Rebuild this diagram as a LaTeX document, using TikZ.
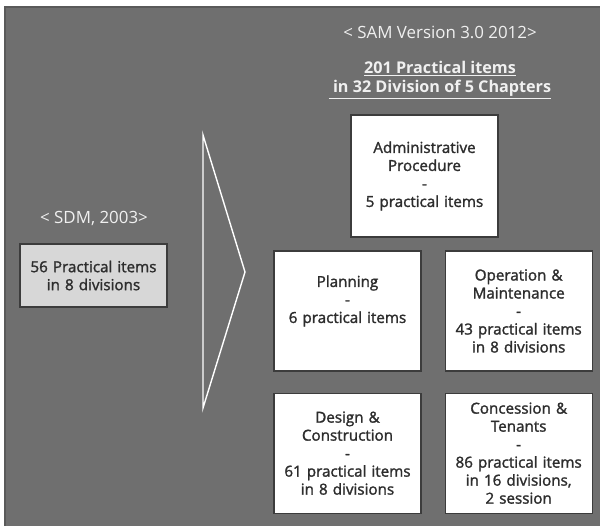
\documentclass[tikz,border=0pt]{standalone}
\usepackage{fontspec}
\setmainfont{Open Sans}
\newfontfamily\cardfont{Open Sans}[FakeBold=1.6]
\usetikzlibrary{positioning,shadows}

\definecolor{bggray}{RGB}{111,111,111}
\definecolor{bgedge}{RGB}{90,90,90}
\definecolor{cardedge}{RGB}{60,60,60}
\definecolor{cardtext}{RGB}{45,45,45}
\definecolor{headtext}{RGB}{240,240,240}
\definecolor{oldfill}{RGB}{215,215,215}

\begin{document}
\begin{tikzpicture}[
        x=0.025cm, y=-0.025cm,
        node distance=0.525cm and 0.575cm,
        panel/.style={fill=bggray, draw=bgedge, line width=0.8pt},
        card/.style={rectangle, draw=cardedge, line width=0.8pt, fill=white, text=cardtext,
            minimum width=3.675cm, minimum height=3cm, text width=3.6cm, inner sep=0pt, align=center,
            font=\cardfont\fontsize{10.8}{12.8}\selectfont,
            drop shadow={opacity=0.35, shadow xshift=0.6pt, shadow yshift=-0.6pt}},
        old card/.style={card, fill=oldfill, minimum height=1.575cm},
        heading/.style={text=headtext, align=center, inner sep=0pt},
        chevron/.style={draw=white, line width=1pt, line join=miter}
    ]

        % Background panel
        \useasboundingbox (0,0) rectangle (600,526);
        \fill[panel] (5,7) rectangle (601,527);

        % Old manual
        \node[heading, font=\fontsize{12}{14}\selectfont] (sdm label) at (94,218) {< SDM, 2003>};
        \node[old card] (sdm) at (93.5,275.5) {56 Practical items\\in 8 divisions};

        % Arrow between the two versions
        \coordinate (tri top) at (203,135);
        \coordinate (tri tip) at (245,272);
        \coordinate (tri bottom) at (203,408);
        \draw[chevron] (tri top) -- (tri tip) -- (tri bottom) -- cycle;

        % New manual headings
        \node[heading, font=\fontsize{12}{14}\selectfont] (sam label) at (440,32) {< SAM Version 3.0 2012>};
        \node[heading, font=\bfseries\fontsize{11.5}{13.5}\selectfont] (sam total) at (440,80)
            {\underline{201 Practical items}\\\underline{\ in 32 Division of 5 Chapters}};

        % Chapters
        \node[card, minimum height=3.05cm] (admin) at (424.5,176)
            {Administrative\\Procedure\\-\\5 practical items};
        \node[card] (planning) at (347.5,311)
            {Planning\\-\\6 practical items\\[4pt]\mbox{}};
        \node[card, right=of planning] (operation)
            {Operation \&\\Maintenance\\-\\43 practical items\\in 8 divisions};
        \node[card, below=of planning] (design)
            {Design \&\\Construction\\-\\61 practical items\\in 8 divisions};
        \node[card, below=of operation] (concession)
            {Concession \&\\Tenants\\-\\86 practical items\\in 16 divisions,\\2 session};

    \end{tikzpicture}
\end{document}
